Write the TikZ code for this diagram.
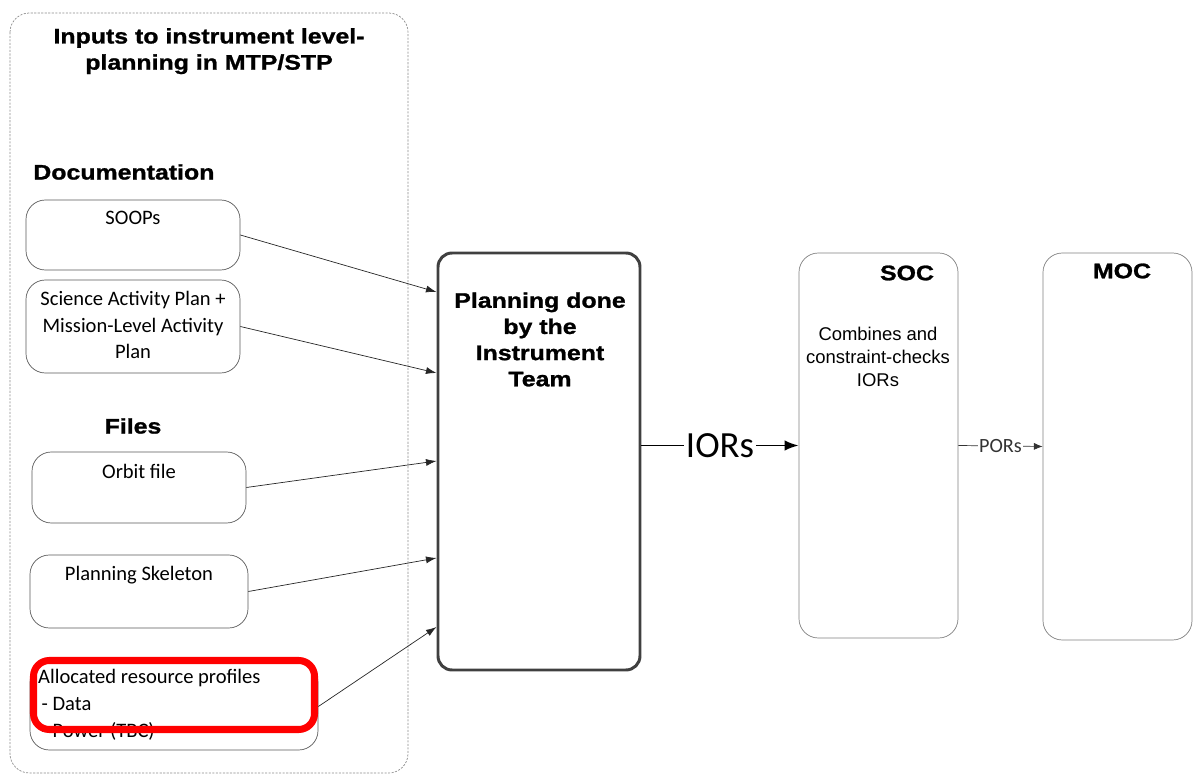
\documentclass[tikz,border=0pt]{standalone}
\usepackage{fontspec}
\setmainfont{Carlito}
\newfontfamily\arialfont{Liberation Sans}
\newfontfamily\blackfont{Liberation Sans Bold}[FakeStretch=1.18,FakeBold=1.2]
\usetikzlibrary{fit,arrows.meta}
\begin{document}
\begin{tikzpicture}[x=0.02cm,y=-0.02cm,
  inbox/.style={draw=black!65,rounded corners=11pt,inner sep=0pt},
  centrebox/.style={draw=black!50,rounded corners=11pt,inner sep=0pt},
  boxtext/.style={align=center,font=\fontsize{11.7}{15.3}\selectfont},
  headtext/.style={font=\blackfont\fontsize{12}{14.9}\selectfont},
  feed/.style={-{Latex[length=6pt,width=4pt]},black!85}]
\useasboundingbox (0,0) rectangle (1194,776);
% input frame
\draw[black!45,dash pattern=on 1.2pt off 0.8pt,rounded corners=11pt] (10,13) rectangle (408,773);
\node[headtext,align=center,anchor=north] (title) at (209,22) {Inputs to instrument level-\\planning in MTP/STP};
\node[headtext,anchor=west,inner sep=0pt] (doclbl) at (33,172) {Documentation};
\node[headtext] (fileslbl) at (133,426) {Files};
% input boxes
\node[inbox,fit={(26,200) (240,270)}] (soop) {};
\node[boxtext] (sooptxt) at (133,218) {SOOPs};
\node[inbox,fit={(26,280) (240,373)}] (sap) {};
\node[boxtext] (saptxt) at (133,325) {Science Activity Plan +\\Mission-Level Activity\\Plan};
\node[inbox,fit={(32,452) (246,523)}] (orbit) {};
\node[boxtext] (orbittxt) at (139,471) {Orbit file};
\node[inbox,fit={(30,555) (248,628)}] (skel) {};
\node[boxtext] (skeltxt) at (139,575) {Planning Skeleton};
\node[inbox,fit={(30,663) (318,750)}] (alloc) {};
\node[boxtext,align=left,anchor=west] (alloctxt) at (32,705) {Allocated resource profiles\\\,- Data\\\,- Power (TBC)};
\node[draw=red,line width=4pt,rounded corners=9pt,inner sep=0pt,fit={(33.5,660.5) (314.5,729.5)}] (hilite) {};
% planning and centres
\node[draw=black!75,line width=1.7pt,rounded corners=8pt,inner sep=0pt,fit={(438,253) (640,670)}] (plan) {};
\node[headtext,align=center] (plantxt) at (540,339.5) {Planning done\\by the\\Instrument\\Team};
\node[centrebox,fit={(799,253) (958,638)}] (soc) {};
\node[headtext] (soctxt) at (907,273) {SOC};
\node[align=center,font=\arialfont\fontsize{10.5}{13}\selectfont] (soctask) at (878,357) {Combines and\\constraint-checks\\IORs};
\node[centrebox,fit={(1043,253) (1192,640)}] (moc) {};
\node[headtext] (moctxt) at (1122,271) {MOC};
% connectors
\draw[feed] (soop.east) -- (plan.west |- 0,292);
\draw[feed] (sap.east) -- (plan.west |- 0,373);
\draw[feed] (orbit.east) -- (plan.west |- 0,461);
\draw[feed] (skel.east) -- (plan.west |- 0,558);
\draw[feed] (alloc.east) -- (plan.west |- 0,627);
\draw[-{Latex[length=8pt,width=6pt]},line width=1.1pt] (plan.east |- soc.west) -- node[fill=white,inner sep=1pt,font=\fontsize{21}{21}\selectfont] (iors) {IORs} (soc.west);
\draw[-{Latex[length=5pt,width=4pt]},black!80] (soc.east) -- node[fill=white,inner sep=0.5pt,font=\fontsize{11.5}{12}\selectfont] (pors) {PORs} (moc.west);
\end{tikzpicture}
\end{document}
